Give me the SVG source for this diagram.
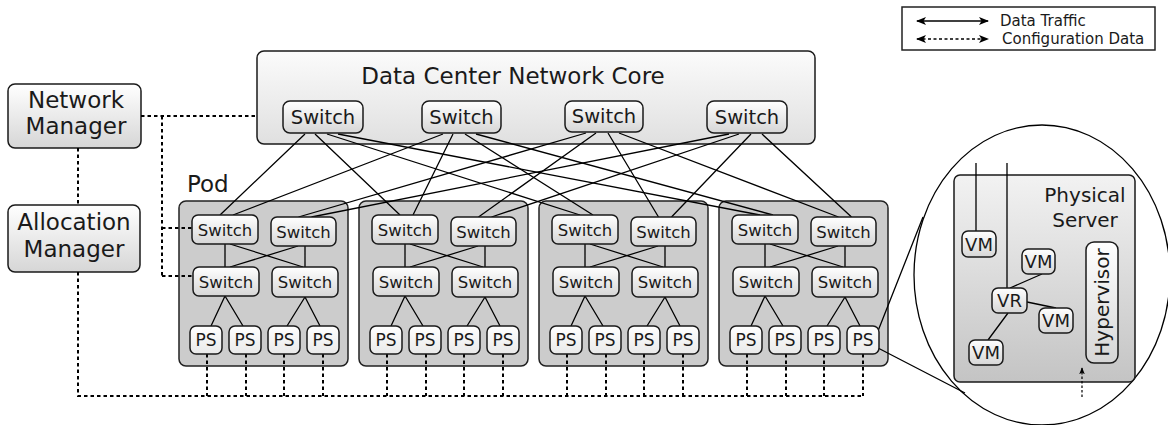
<svg xmlns="http://www.w3.org/2000/svg" width="1168" height="425" viewBox="0 0 1168 425">
<defs>
<linearGradient id="gNode" x1="0" y1="0" x2="0" y2="1"><stop offset="0" stop-color="#ffffff"/><stop offset="1" stop-color="#d6d6d6"/></linearGradient>
<linearGradient id="gPS" x1="0" y1="0" x2="0" y2="1"><stop offset="0" stop-color="#ffffff"/><stop offset="1" stop-color="#e9e9e9"/></linearGradient>
<linearGradient id="gCore" x1="0" y1="0" x2="0" y2="1"><stop offset="0" stop-color="#fbfbfb"/><stop offset="1" stop-color="#e0e0e0"/></linearGradient>
<linearGradient id="gServer" x1="0" y1="0" x2="0" y2="1"><stop offset="0" stop-color="#f2f2f2"/><stop offset="1" stop-color="#c4c4c4"/></linearGradient>
<marker id="ah" viewBox="0 0 10 8" refX="9" refY="4" markerWidth="11" markerHeight="8" markerUnits="userSpaceOnUse" orient="auto-start-reverse"><path d="M0,0 L10,4 L0,8 L2.5,4 z" fill="#000"/></marker>
<marker id="ahs" viewBox="0 0 10 8" refX="9" refY="4" markerWidth="7" markerHeight="6" markerUnits="userSpaceOnUse" orient="auto-start-reverse"><path d="M0,0 L10,4 L0,8 L2.5,4 z" fill="#000"/></marker>
</defs>
<style>
text{font-family:"DejaVu Sans","Liberation Sans",sans-serif;fill:#1a1a1a}
.n{fill:url(#gNode);stroke:#1a1a1a;stroke-width:1.5}
.ps{fill:url(#gPS);stroke:#1a1a1a;stroke-width:1.5}
.pod{fill:#cccccc;stroke:#222;stroke-width:1.5}
.ln{stroke:#000;stroke-width:1.3;fill:none}
.cf{stroke:#000;stroke-width:2;stroke-dasharray:3.5 3;fill:none}
.t23{font-size:23px}
.ts{font-size:16.5px;text-anchor:middle}
.tc{font-size:19.5px;text-anchor:middle}
.tp{font-size:17px;text-anchor:middle}
.tv{font-size:18px;text-anchor:middle}
.tm{font-size:23px;text-anchor:middle}
.tl{font-size:15px}
</style>

<g id="legend">
<rect x="902" y="7" width="253" height="43" fill="#fff" stroke="#222" stroke-width="1.5"/>
<path d="M917,21 H988" stroke="#000" stroke-width="1.6" marker-start="url(#ah)" marker-end="url(#ah)"/>
<path d="M917,39 H988" stroke="#000" stroke-width="1.5" stroke-dasharray="3 2.5" marker-start="url(#ah)" marker-end="url(#ah)"/>
<text class="tl" x="1000" y="26">Data Traffic</text>
<text class="tl" x="1002" y="44">Configuration Data</text>
</g>

<g id="core">
<rect x="257" y="51" width="558" height="93" rx="7" fill="url(#gCore)" stroke="#1a1a1a" stroke-width="1.5"/>
<text class="t23" x="513" y="84" text-anchor="middle" font-size="23.4px">Data Center Network Core</text>
</g>

<g id="network-manager">
<rect class="n" x="8" y="84" width="133" height="64" rx="7"/>
<text class="tm" x="76" y="108">Network</text>
<text class="tm" x="76" y="134">Manager</text>
</g>
<g id="allocation-manager">
<rect class="n" x="8" y="205" width="132" height="67" rx="7"/>
<text class="tm" x="74" y="230">Allocation</text>
<text class="tm" x="74" y="257">Manager</text>
</g>

<text class="t23" x="187" y="192">Pod</text>

<g id="pods">
<g id="pod1"><rect class="pod" x="179" y="201" width="169" height="165" rx="7"/></g>
<g id="pod2" transform="translate(180,0)"><rect class="pod" x="179" y="201" width="169" height="165" rx="7"/></g>
<g id="pod3" transform="translate(360,0)"><rect class="pod" x="179" y="201" width="169" height="165" rx="7"/></g>
<g id="pod4" transform="translate(540,0)"><rect class="pod" x="179" y="201" width="169" height="165" rx="7"/></g>
</g>

<g id="zoom-circle">
<ellipse cx="1042" cy="275" rx="128" ry="150" fill="#fff" stroke="#000" stroke-width="1.3"/>
</g>
<g id="physical-server">
<rect x="954" y="175" width="181" height="207" rx="6" fill="url(#gServer)" stroke="#1a1a1a" stroke-width="1.5"/>
<text x="1085" y="202" font-size="20px" text-anchor="middle">Physical</text>
<text x="1085" y="227" font-size="20px" text-anchor="middle">Server</text>
</g>

<g id="connectors">
<g id="core-links" class="ln">
<path d="M305,134 L220,215 M315,134 L400,215 M327,134 L580,215 M338,134 L760,215"/>
<path d="M443,134 L233,215 M453,134 L413,215 M465,134 L593,215 M476,134 L773,215"/>
<path d="M586,133 L298.5,217 M596,133 L478.5,217 M608,133 L658.5,217 M619,133 L838.5,217"/>
<path d="M729,134 L311.5,217 M739,134 L491.5,217 M751,134 L671.5,217 M762,134 L851.5,217"/>
</g>
<g id="pod-links">
<path id="pl1" class="ln" d="M225,244 V267 M305,246 V267 M230,244 L303,267 M298,246 L230,267 M225,296 L211,326 M225,296 L243,326 M305,297 L287,326 M305,297 L320,326"/>
<use href="#pl1" transform="translate(180,0)"/>
<use href="#pl1" transform="translate(360,0)"/>
<use href="#pl1" transform="translate(540,0)"/>
</g>
<g id="config-links" class="cf">
<path d="M141,116 H257 M162,116 V276 M162,228 H192 M162,276 H193 M78,148 V205 M78,272 V396 H863"/>
<path d="M207,354 V396 M246,354 V396 M284,354 V396 M323,354 V396"/>
<path d="M387,354 V396 M426,354 V396 M464,354 V396 M503,354 V396"/>
<path d="M567,354 V396 M606,354 V396 M644,354 V396 M683,354 V396"/>
<path d="M747,354 V396 M786,354 V396 M824,354 V396 M863,354 V396"/>
</g>
<g id="zoom-links" class="ln">
<path d="M878,331 L923,217 M878,348 L965,393"/>
</g>
<g id="server-links" class="ln">
<path d="M976,163 V231 M1007,163 V288 M1010,288 L1042,274 M1027,302 L1056,308 M1008,313 L988,340"/>
</g>
<path id="hypervisor-config" d="M1082,397 V368" stroke="#000" stroke-width="1.2" stroke-dasharray="2.5 2" marker-end="url(#ahs)"/>
</g>

<g id="core-switches">
<g id="core-s1"><rect class="n" x="283" y="101" width="80" height="32" rx="7"/><text class="tc" x="323" y="124">Switch</text></g>
<g id="core-s2"><rect class="n" x="422" y="101" width="79" height="32" rx="7"/><text class="tc" x="461.5" y="124">Switch</text></g>
<g id="core-s3"><rect class="n" x="565" y="101" width="78" height="31" rx="7"/><text class="tc" x="604" y="123">Switch</text></g>
<g id="core-s4"><rect class="n" x="707" y="101" width="80" height="32" rx="7"/><text class="tc" x="747" y="124">Switch</text></g>
</g>

<g id="pod-nodes">
<g id="pod1-nodes">
<g id="p1-agg1"><rect class="n" x="192" y="215" width="66" height="29" rx="6"/><text class="ts" x="225" y="235.5">Switch</text></g>
<g id="p1-agg2"><rect class="n" x="271" y="217" width="65" height="29" rx="6"/><text class="ts" x="303.5" y="237.5">Switch</text></g>
<g id="p1-edge1"><rect class="n" x="193" y="267" width="66" height="29" rx="6"/><text class="ts" x="226" y="287.5">Switch</text></g>
<g id="p1-edge2"><rect class="n" x="272" y="267" width="66" height="30" rx="6"/><text class="ts" x="305" y="288">Switch</text></g>
<g id="p1-ps1"><rect class="ps" x="190" y="326" width="32" height="28" rx="6"/><text class="tp" x="206" y="346">PS</text></g>
<g id="p1-ps2"><rect class="ps" x="229" y="326" width="32" height="28" rx="6"/><text class="tp" x="245" y="346">PS</text></g>
<g id="p1-ps3"><rect class="ps" x="268" y="326" width="32" height="28" rx="6"/><text class="tp" x="284" y="346">PS</text></g>
<g id="p1-ps4"><rect class="ps" x="307" y="326" width="32" height="28" rx="6"/><text class="tp" x="323" y="346">PS</text></g>
</g>
<g id="pod2-nodes" transform="translate(180,0)">
<g id="p2-agg1"><rect class="n" x="192" y="215" width="66" height="29" rx="6"/><text class="ts" x="225" y="235.5">Switch</text></g>
<g id="p2-agg2"><rect class="n" x="271" y="217" width="65" height="29" rx="6"/><text class="ts" x="303.5" y="237.5">Switch</text></g>
<g id="p2-edge1"><rect class="n" x="193" y="267" width="66" height="29" rx="6"/><text class="ts" x="226" y="287.5">Switch</text></g>
<g id="p2-edge2"><rect class="n" x="272" y="267" width="66" height="30" rx="6"/><text class="ts" x="305" y="288">Switch</text></g>
<g id="p2-ps1"><rect class="ps" x="190" y="326" width="32" height="28" rx="6"/><text class="tp" x="206" y="346">PS</text></g>
<g id="p2-ps2"><rect class="ps" x="229" y="326" width="32" height="28" rx="6"/><text class="tp" x="245" y="346">PS</text></g>
<g id="p2-ps3"><rect class="ps" x="268" y="326" width="32" height="28" rx="6"/><text class="tp" x="284" y="346">PS</text></g>
<g id="p2-ps4"><rect class="ps" x="307" y="326" width="32" height="28" rx="6"/><text class="tp" x="323" y="346">PS</text></g>
</g>
<g id="pod3-nodes" transform="translate(360,0)">
<g id="p3-agg1"><rect class="n" x="192" y="215" width="66" height="29" rx="6"/><text class="ts" x="225" y="235.5">Switch</text></g>
<g id="p3-agg2"><rect class="n" x="271" y="217" width="65" height="29" rx="6"/><text class="ts" x="303.5" y="237.5">Switch</text></g>
<g id="p3-edge1"><rect class="n" x="193" y="267" width="66" height="29" rx="6"/><text class="ts" x="226" y="287.5">Switch</text></g>
<g id="p3-edge2"><rect class="n" x="272" y="267" width="66" height="30" rx="6"/><text class="ts" x="305" y="288">Switch</text></g>
<g id="p3-ps1"><rect class="ps" x="190" y="326" width="32" height="28" rx="6"/><text class="tp" x="206" y="346">PS</text></g>
<g id="p3-ps2"><rect class="ps" x="229" y="326" width="32" height="28" rx="6"/><text class="tp" x="245" y="346">PS</text></g>
<g id="p3-ps3"><rect class="ps" x="268" y="326" width="32" height="28" rx="6"/><text class="tp" x="284" y="346">PS</text></g>
<g id="p3-ps4"><rect class="ps" x="307" y="326" width="32" height="28" rx="6"/><text class="tp" x="323" y="346">PS</text></g>
</g>
<g id="pod4-nodes" transform="translate(540,0)">
<g id="p4-agg1"><rect class="n" x="192" y="215" width="66" height="29" rx="6"/><text class="ts" x="225" y="235.5">Switch</text></g>
<g id="p4-agg2"><rect class="n" x="271" y="217" width="65" height="29" rx="6"/><text class="ts" x="303.5" y="237.5">Switch</text></g>
<g id="p4-edge1"><rect class="n" x="193" y="267" width="66" height="29" rx="6"/><text class="ts" x="226" y="287.5">Switch</text></g>
<g id="p4-edge2"><rect class="n" x="272" y="267" width="66" height="30" rx="6"/><text class="ts" x="305" y="288">Switch</text></g>
<g id="p4-ps1"><rect class="ps" x="190" y="326" width="32" height="28" rx="6"/><text class="tp" x="206" y="346">PS</text></g>
<g id="p4-ps2"><rect class="ps" x="229" y="326" width="32" height="28" rx="6"/><text class="tp" x="245" y="346">PS</text></g>
<g id="p4-ps3"><rect class="ps" x="268" y="326" width="32" height="28" rx="6"/><text class="tp" x="284" y="346">PS</text></g>
<g id="p4-ps4"><rect class="ps" x="307" y="326" width="32" height="28" rx="6"/><text class="tp" x="323" y="346">PS</text></g>
</g>
</g>

<g id="server-nodes">
<g id="vm1"><rect class="n" x="962" y="231" width="34" height="26" rx="6"/><text class="tv" x="979" y="250.5">VM</text></g>
<g id="vm2"><rect class="n" x="1022" y="249" width="33" height="25" rx="6"/><text class="tv" x="1038.5" y="268">VM</text></g>
<g id="vr"><rect class="n" x="992" y="288" width="35" height="25" rx="6"/><text class="tv" x="1009.5" y="307">VR</text></g>
<g id="vm3"><rect class="n" x="1039" y="308" width="34" height="25" rx="6"/><text class="tv" x="1056" y="327">VM</text></g>
<g id="vm4"><rect class="n" x="969" y="340" width="34" height="25" rx="6"/><text class="tv" x="986" y="359">VM</text></g>
<g id="hypervisor"><rect class="n" x="1086" y="242" width="32" height="121" rx="8"/><text font-size="20px" text-anchor="middle" transform="translate(1109,302.5) rotate(-90)">Hypervisor</text></g>
</g>
</svg>
